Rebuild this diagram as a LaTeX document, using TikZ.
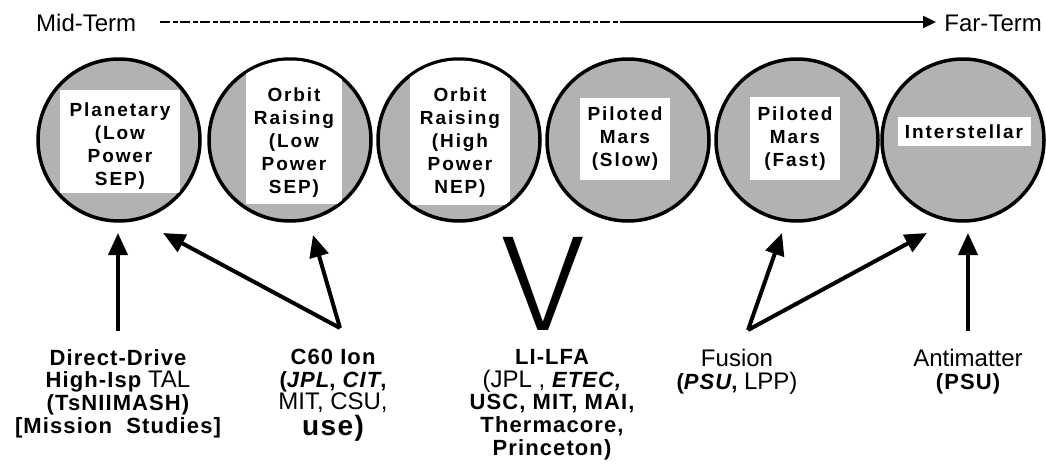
\documentclass[tikz,border=0pt]{standalone}
\usepackage{fontspec}
\usepackage{graphicx}
\setmainfont{Liberation Sans}
\newfontfamily\spfont[LetterSpace=10]{Liberation Sans}
\newfontfamily\spbfont[LetterSpace=5]{Liberation Sans}
\newfontfamily\vfont{Fira Sans}[UprightFont={* Light}]
\newcommand\bsp{\spbfont\bfseries\fontsize{22}{22.7}\selectfont}
\usetikzlibrary{arrows.meta}
\begin{document}
\begin{tikzpicture}[x=1pt,y=-1pt,
  disk/.style={circle, draw=black, line width=3.5pt, fill=black!30, minimum size=162pt, inner sep=0pt},
  boxtxt/.style={align=center, font=\spfont\bfseries\fontsize{19}{23}\selectfont, inner sep=0pt},
  lab/.style={align=center, font=\fontsize{24}{22.7}\selectfont, inner sep=0pt, anchor=north},
  arr/.style={line width=4pt, -{Triangle[length=22pt,width=19pt]}},
  term/.style={font=\fontsize{24}{24}\selectfont, inner sep=0pt, anchor=base},
]
\useasboundingbox (0,0) rectangle (1046,474);

% time axis
\node[term, anchor=base west] (mid) at (36,31) {Mid-Term};
\node[term, anchor=base east] (far) at (1042,31) {Far-Term};
\coordinate (ts) at (160,22);
\coordinate (tm) at (620,22);
\coordinate (te) at (936,22);
\draw[line width=1.8pt, dash pattern=on 10pt off 3pt on 5pt off 2pt] (ts) -- (tm);
\draw[line width=2.2pt, -{Triangle[length=13pt,width=12pt]}] (tm) -- (te);

% disks
\node[disk] (c1) at (119,140) {};
\node[disk] (c2) at (290,140) {};
\node[disk] (c3) at (459,140) {};
\node[disk] (c4) at (628,140) {};
\node[disk] (c5) at (797,140) {};
\node[disk] (c6) at (963,140) {};

\begin{scope}
  \clip (c1.center) circle[radius=79.5pt] (c2.center) circle[radius=79.5pt]
        (c3.center) circle[radius=79.5pt] (c4.center) circle[radius=79.5pt]
        (c5.center) circle[radius=79.5pt] (c6.center) circle[radius=79.5pt];
  \fill[white] (60,90) rectangle (180,193);
  \fill[white] (246,60) rectangle (342,204);
  \fill[white] (410,60) rectangle (510,205);
  \fill[white] (580,98) rectangle (670,180);
  \fill[white] (750,97) rectangle (840,180);
  \fill[white] (898,117) rectangle (1031,146);
\end{scope}

\node[boxtxt] (t1) at (120,146) {Planetary\\(Low\\Power\\SEP)};
\node[boxtxt] (t2) at (294,143) {Orbit\\Raising\\(Low\\Power\\SEP)};
\node[boxtxt] (t3) at (460,143) {Orbit\\Raising\\(High\\Power\\NEP)};
\node[boxtxt] (t4) at (625,139) {Piloted\\Mars\\(Slow)};
\node[boxtxt] (t5) at (795,139) {Piloted\\Mars\\(Fast)};
\node[boxtxt] (t6) at (964,132) {Interstellar};

% big V
\node[font=\vfont\fontsize{136}{136}\selectfont, inner sep=0pt, text depth=0pt, anchor=base] (vv) at (543,330) {\scalebox{1.15}[1]{V}};

% bottom labels
\node[lab] (l1) at (118,349) {{\bsp Direct-Drive}\\{\bsp High-Isp} TAL\\{\bsp (TsNIIMASH)}\\{\bsp [Mission\ \ Studies]}};
\node[lab] (l2) at (333,349) {{\bsp C60 Ion}\\{\bsp (\textit{JPL}, \textit{CIT},}\\MIT, CSU,\\[1pt]{\bsp\fontsize{28}{22.7}\selectfont use)}};
\node[lab] (l3) at (552,349) {{\bsp LI-LFA}\\(JPL , {\bsp\itshape ETEC,}\\{\bsp USC, MIT, MAI,}\\{\bsp Thermacore,}\\{\bsp Princeton)}};
\node[lab] (l4) at (737,349) {Fusion\\{\bsp (\textit{PSU},} LPP)};
\node[lab] (l5) at (968,349) {Antimatter\\{\bsp (PSU)}};

% arrow anchors
\coordinate (b1) at (118,331);
\coordinate (h1) at (118,233);
\coordinate (b2) at (340,328);
\coordinate (h2a) at (163,233);
\coordinate (h2b) at (313,235);
\coordinate (b4) at (748,330);
\coordinate (h4a) at (782,233);
\coordinate (h4b) at (927,233);
\coordinate (b5) at (968,331);
\coordinate (h5) at (968,233);

\draw[arr] (b1) -- (h1);
\draw[arr] (b2) -- (h2a);
\draw[arr] (b2) -- (h2b);
\draw[arr] (b4) -- (h4a);
\draw[arr] (b4) -- (h4b);
\draw[arr] (b5) -- (h5);
\end{tikzpicture}
\end{document}
